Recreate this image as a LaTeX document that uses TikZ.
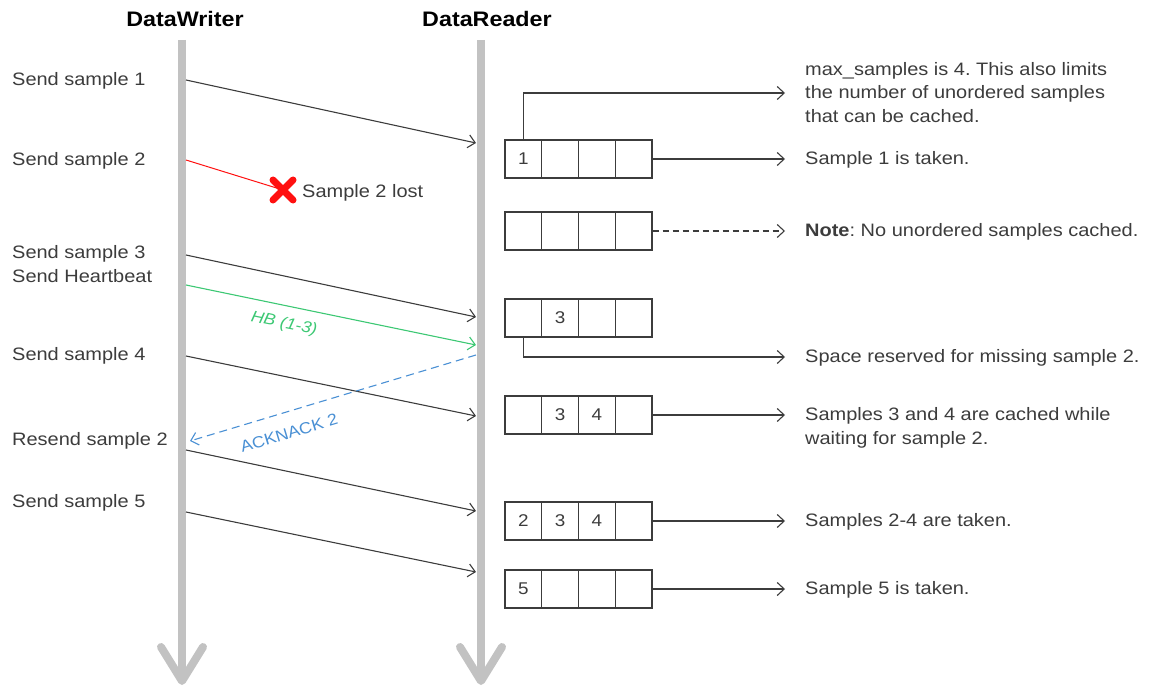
\documentclass[tikz,border=0pt]{standalone}
\usepackage{fontspec}
\usepackage{graphicx}
\setmainfont{Liberation Sans}
\frenchspacing
\usetikzlibrary{arrows.meta,shapes.misc}
\definecolor{life}{HTML}{C2C2C2}
\definecolor{ink}{HTML}{3C3C3C}
\definecolor{hbgreen}{HTML}{3DC874}
\definecolor{ackblue}{HTML}{4A90D4}
\definecolor{lostred}{HTML}{FF1010}
\newcommand\sx[1]{\scalebox{1.11}[1]{#1}}
\newcommand\ml[1]{\sx{\begin{tabular}{@{}l@{}}#1\end{tabular}}}
\tikzset{
  lifeline/.style={draw=life, line width=8pt},
  title/.style={font=\bfseries\fontsize{21}{25}\selectfont, text=black, inner sep=0pt},
  lbl/.style={font=\fontsize{18}{23.5}\selectfont, text=ink, inner sep=0pt, anchor=west},
  msg/.style={draw=ink, line width=1.1pt, -{Straight Barb[length=7pt,width=13pt]}},
  cell/.style={draw=ink, line width=1.2pt, minimum width=36.75pt, minimum height=38pt, inner sep=0pt, rectangle, font=\fontsize{17}{20}\selectfont, text=ink},
}
\newcommand\bufrow[6]{%
  \node[cell] (#1-1) at (523.4,#2) {\sx{#3}};
  \node[cell] (#1-2) at (560.1,#2) {\sx{#4}};
  \node[cell] (#1-3) at (596.9,#2) {\sx{#5}};
  \node[cell] (#1-4) at (633.6,#2) {\sx{#6}};
}
\begin{document}
\begin{tikzpicture}[x=1pt,y=-1pt]
\useasboundingbox (0,0) rectangle (1150,687);
% titles
\node[title] (dw) at (185,19) {\sx{DataWriter}};
\node[title] (dr) at (487,19) {\sx{DataReader}};
% lifelines
\coordinate (wtop) at (182,40);
\coordinate (wbot) at (182,681);
\coordinate (rtop) at (481,40);
\coordinate (rbot) at (481,681);
\draw[lifeline] (wtop) -- (wbot);
\draw[lifeline, line cap=round, line join=round] (161,647) -- (wbot) -- (203,647);
\draw[lifeline] (rtop) -- (rbot);
\draw[lifeline, line cap=round, line join=round] (460,647) -- (rbot) -- (502,647);
% left labels
\node[lbl] (l1) at (12,81) {\sx{Send sample 1}};
\node[lbl] (l2) at (12,161) {\sx{Send sample 2}};
\node[lbl] (l3) at (12,266) {\ml{Send sample 3\\Send Heartbeat}};
\node[lbl] (l4) at (12,356) {\sx{Send sample 4}};
\node[lbl] (l5) at (12,441) {\sx{Resend sample 2}};
\node[lbl] (l6) at (12,503) {\sx{Send sample 5}};
% messages
\coordinate (m1a) at (186,80);  \coordinate (m1b) at (476,143);
\coordinate (m2a) at (186,160);
\coordinate (m3a) at (186,255); \coordinate (m3b) at (476,317);
\coordinate (m4a) at (186,285); \coordinate (m4b) at (476,345);
\coordinate (m5a) at (186,356); \coordinate (m5b) at (476,416);
\coordinate (m6a) at (476,355); \coordinate (m6b) at (190,441);
\coordinate (m7a) at (186,450); \coordinate (m7b) at (476,511);
\coordinate (m8a) at (186,512); \coordinate (m8b) at (476,572);
\draw[msg] (m1a) -- (m1b);
\node[cross out, draw=lostred, line width=7pt, line cap=round, minimum size=13pt, inner sep=0pt] (lostX) at (283,190) {};
\draw[draw=lostred, line width=1pt] (m2a) -- (lostX.center);
\node[lbl] (lostT) at (302,193) {\sx{Sample 2 lost}};
\draw[msg] (m3a) -- (m3b);
\draw[msg, draw=hbgreen] (m4a) -- (m4b);
\node[font=\itshape\fontsize{16}{19}\selectfont, text=hbgreen, rotate=-11.7, inner sep=0pt] (hb) at (284,324) {\sx{HB (1-3)}};
\draw[msg] (m5a) -- (m5b);
\draw[msg, draw=ackblue, dash pattern=on 8pt off 5pt] (m6a) -- (m6b);
\node[font=\fontsize{16}{19}\selectfont, text=ackblue, rotate=16.8, inner sep=0pt] (ack) at (289,433) {\sx{ACKNACK 2}};
\draw[msg] (m7a) -- (m7b);
\draw[msg] (m8a) -- (m8b);
% buffers
\bufrow{b1}{159}{1}{}{}{}
\bufrow{b2}{231}{}{}{}{}
\bufrow{b3}{318}{}{3}{}{}
\bufrow{b4}{415}{}{3}{4}{}
\bufrow{b5}{521}{2}{3}{4}{}
\bufrow{b6}{589}{5}{}{}{}
% right notes
\coordinate (t0) at (785,93);
\coordinate (t1) at (785,159);
\coordinate (t2) at (785,231);
\coordinate (t3) at (785,357);
\coordinate (t4) at (785,415);
\coordinate (t5) at (785,521);
\coordinate (t6) at (785,589);
\draw[msg] (b1-1.north) |- (t0);
\draw[msg] (b1-4.east) -- (t1);
\draw[msg, dash pattern=on 6pt off 4pt] (b2-4.east) -- (t2);
\draw[msg] (b3-1.south) |- (t3);
\draw[msg] (b4-4.east) -- (t4);
\draw[msg] (b5-4.east) -- (t5);
\draw[msg] (b6-4.east) -- (t6);
\node[lbl] (n0) at (805,94) {\ml{max\_samples is 4. This also limits\\the number of unordered samples\\that can be cached.}};
\node[lbl] (n1) at (805,160) {\sx{Sample 1 is taken.}};
\node[lbl] (n2) at (805,232) {\sx{\textbf{Note}: No unordered samples cached.}};
\node[lbl] (n3) at (805,358) {\sx{Space reserved for missing sample 2.}};
\node[lbl] (n4) at (805,428) {\ml{Samples 3 and 4 are cached while\\waiting for sample 2.}};
\node[lbl] (n5) at (805,522) {\sx{Samples 2-4 are taken.}};
\node[lbl] (n6) at (805,590) {\sx{Sample 5 is taken.}};
\end{tikzpicture}
\end{document}
